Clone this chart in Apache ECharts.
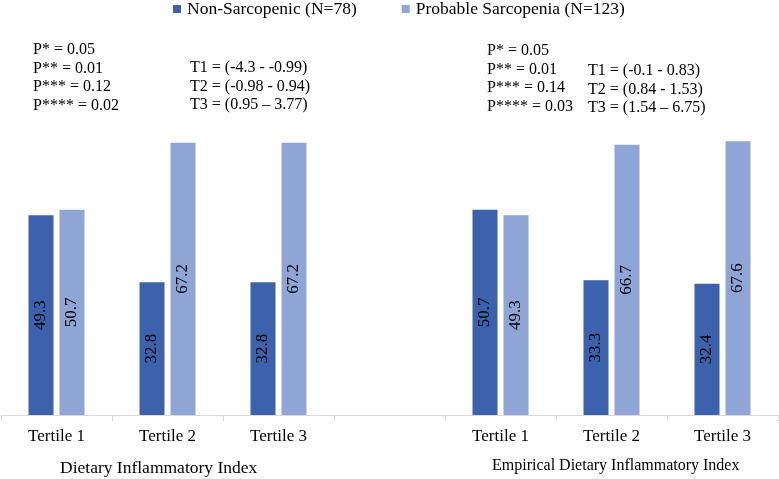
<!DOCTYPE html>
<html>
<head>
<meta charset="utf-8">
<script src="https://cdn.jsdelivr.net/npm/echarts@6/dist/echarts.min.js"></script>
<style>
html,body{margin:0;padding:0;background:#fff;}
#chart{width:779px;height:479px;}
</style>
</head>
<body>
<div id="chart"></div>
<script>
const categories = ['Tertile 1', 'Tertile 2', 'Tertile 3', '', 'Tertile 1 ', 'Tertile 2 ', 'Tertile 3 '];
const seriesNames = ['Non-Sarcopenic (N=78)', 'Probable Sarcopenia (N=123)'];
const nonSarcopenic = [49.3, 32.8, 32.8, '-', 50.7, 33.3, 32.4];
const probableSarcopenia = [50.7, 67.2, 67.2, '-', 49.3, 66.7, 67.6];
const groupTitles = ['Dietary Inflammatory Index', 'Empirical Dietary Inflammatory Index'];
const pValuesDII = ['P* = 0.05', 'P** = 0.01', 'P*** = 0.12', 'P**** = 0.02'];
const tertilesDII = ['T1 = (-4.3 - -0.99)', 'T2 = (-0.98 - 0.94)', 'T3 = (0.95 \u2013 3.77)'];
const pValuesEDII = ['P* = 0.05', 'P** = 0.01', 'P*** = 0.14', 'P**** = 0.03'];
const tertilesEDII = ['T1 = (-0.1 - 0.83)', 'T2 = (0.84 - 1.53)', 'T3 = (1.54 \u2013 6.75)'];

const FONT = "'Liberation Serif', 'Times New Roman', serif";
const colors = ['#3c62ad', '#8fa5d6'];

const chart = echarts.init(document.getElementById('chart'), null, {renderer: 'canvas'});

function txt(lines, left, top, size, lh) {
  return {
    type: 'text', left: left, top: top,
    style: {text: lines.join('\n'), font: size + 'px ' + FONT, lineHeight: lh, fill: '#000'}
  };
}

const labelOpt = {
  show: true, position: 'inside', rotate: 90,
  fontFamily: FONT, fontSize: 17, color: '#000',
  formatter: p => p.value.toFixed(1)
};

chart.setOption({
  animation: false,
  color: colors,
  textStyle: {fontFamily: FONT},
  legend: {
    data: seriesNames,
    left: 173, top: 0, padding: 0,
    icon: 'rect', itemWidth: 8, itemHeight: 8, itemGap: 45,
    textStyle: {fontFamily: FONT, fontSize: 17.5, color: '#000', lineHeight: 17, padding: [0, 0, 0, 1]}
  },
  grid: {left: 1, right: 1, top: 10, bottom: 64, containLabel: false},
  xAxis: {
    type: 'category',
    data: categories,
    axisLine: {lineStyle: {color: '#d9d9d9', width: 1}},
    axisTick: {show: true, length: 6, lineStyle: {color: '#d9d9d9'}},
    axisLabel: {fontFamily: FONT, fontSize: 17, color: '#000', margin: 13, interval: 0,
      formatter: v => v.trim()}
  },
  yAxis: {type: 'value', min: 0, max: 100, show: false, splitLine: {show: false}},
  series: [
    {name: seriesNames[0], type: 'bar', data: nonSarcopenic, barWidth: 25, barGap: '24%', label: labelOpt,
     itemStyle: {color: colors[0]}},
    {name: seriesNames[1], type: 'bar', data: probableSarcopenia, barWidth: 25, label: labelOpt,
     itemStyle: {color: colors[1]}}
  ],
  graphic: [
    txt(pValuesDII, 33, 41, 16, 18.5),
    txt(tertilesDII, 190, 59, 16, 18.5),
    txt(pValuesEDII, 487, 42, 16, 18.5),
    txt(tertilesEDII, 588, 62, 16, 18.5),
    {type: 'text', left: 60, top: 459, style: {text: groupTitles[0], font: '17.5px ' + FONT, fill: '#000'}},
    {type: 'text', left: 492, top: 458, style: {text: groupTitles[1], font: '16px ' + FONT, fill: '#000'}}
  ]
});
</script>
</body>
</html>
